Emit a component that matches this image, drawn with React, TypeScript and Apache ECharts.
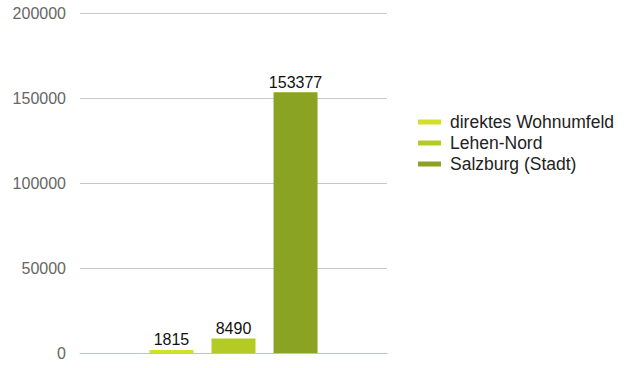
import React, { useEffect, useRef } from "react";
import * as echarts from "echarts";

const seriesNames = ["direktes Wohnumfeld", "Lehen-Nord", "Salzburg (Stadt)"];
const seriesValues = [1815, 8490, 153377];
const seriesColors = ["#d3df2b", "#b5cb25", "#8aa323"];
const categories = [""];

export default function App() {
  const ref = useRef<HTMLDivElement>(null);
  useEffect(() => {
    const chart = echarts.init(ref.current!, null, { renderer: "svg" });
    chart.setOption({
      animation: false,
      grid: { left: 80, right: 237, top: 13, bottom: 15 },
      legend: {
        orient: "vertical",
        left: 413,
        top: 107,
        itemWidth: 23,
        itemHeight: 5,
        itemGap: 1,
        icon: "rect",
        textStyle: {
          fontFamily: "Liberation Sans",
          fontSize: 17.5,
          lineHeight: 20,
          color: "#222",
          padding: [0, 0, 0, 4],
        },
        data: seriesNames,
      },
      xAxis: {
        type: "category",
        data: categories,
        axisLine: { show: true, lineStyle: { color: "#b8c4d0", width: 1 } },
        axisTick: { show: false },
        axisLabel: { show: false },
      },
      yAxis: {
        type: "value",
        min: 0,
        max: 200000,
        interval: 50000,
        axisLine: { show: false },
        axisTick: { show: false },
        axisLabel: {
          fontFamily: "Liberation Sans",
          fontSize: 16,
          color: "#666",
          margin: 14,
          formatter: (v: number) => String(v),
        },
        splitLine: { lineStyle: { color: "#c8c8c8", width: 1 } },
      },
      series: seriesNames.map((name, i) => ({
        name,
        type: "bar",
        data: [seriesValues[i]],
        barWidth: 44,
        barGap: "41%",
        itemStyle: { color: seriesColors[i] },
        label: {
          show: true,
          position: "top",
          distance: 2,
          fontFamily: "Liberation Sans",
          fontSize: 16,
          color: "#111",
        },
      })),
    });
    return () => chart.dispose();
  }, []);
  return <div ref={ref} style={{ width: 624, height: 368, position: "absolute", left: 0, top: 0 }} />;
}
